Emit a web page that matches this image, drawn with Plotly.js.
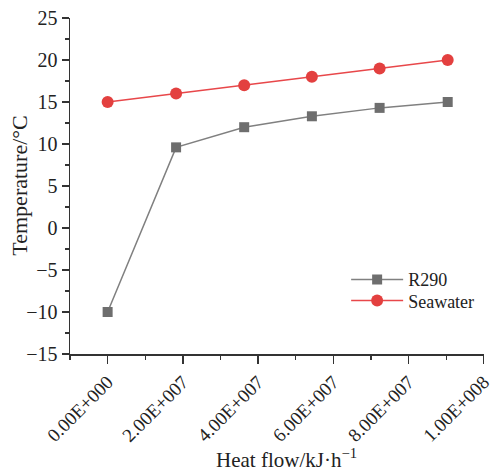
<!DOCTYPE html>
<html>
<head>
<meta charset="utf-8">
<script src="https://cdn.plot.ly/plotly-3.0.1.min.js"></script>
<style>
  html, body { margin: 0; padding: 0; background: #fff; }
  #chart { width: 492px; height: 471px; }
</style>
</head>
<body>
<div id="chart"></div>
<script>
// Heat flow along the exchanger (kJ/h)
const heatFlow = [0, 1.82e7, 3.63e7, 5.43e7, 7.23e7, 9.04e7];
// Temperatures (°C)
const r290Temp = [-10, 9.6, 12, 13.3, 14.3, 15];
const seawaterTemp = [15, 16, 17, 18, 19, 20];
// X-axis tick positions and labels
const xTickVals = [0, 2e7, 4e7, 6e7, 8e7, 1e8];
const xTickText = ['0.00E+000', '2.00E+007', '4.00E+007', '6.00E+007', '8.00E+007', '1.00E+008'];
const xMinorVals = [-1e7, 1e7, 3e7, 5e7, 7e7, 9e7];

const serif = 'Liberation Serif, Times New Roman, serif';

const traces = [
  {
    x: heatFlow, y: r290Temp, name: 'R290', legend: 'legend',
    mode: 'lines+markers', type: 'scatter',
    line: { color: '#808080', width: 1.5 },
    marker: { symbol: 'square', size: 10, color: '#6e6e6e' }
  },
  {
    x: heatFlow, y: seawaterTemp, name: 'Seawater', legend: 'legend2',
    mode: 'lines+markers', type: 'scatter',
    line: { color: '#e8474a', width: 1.5 },
    marker: { symbol: 'circle', size: 12, color: '#e3403f' }
  }
];

const legendBase = {
  xanchor: 'left', yanchor: 'middle',
  font: { family: serif, size: 18, color: '#222' },
  bgcolor: 'rgba(0,0,0,0)', itemwidth: 52
};

const layout = {
  width: 492, height: 471,
  margin: { l: 70, r: 8, t: 18, b: 117 },
  paper_bgcolor: '#fff', plot_bgcolor: '#fff',
  font: { family: serif, color: '#222', size: 18 },
  showlegend: true,
  legend: Object.assign({ x: 0.667, y: 0.221 }, legendBase),
  legend2: Object.assign({ x: 0.667, y: 0.158 }, legendBase),
  xaxis: {
    range: [-1e7, 1.0005e8],
    tickmode: 'array', tickvals: xTickVals, ticktext: xTickText,
    tickangle: -45, ticklabeloverflow: 'allow',
    ticks: 'outside', ticklen: 8, tickwidth: 1.3, tickcolor: '#333',
    minor: { tickmode: 'array', tickvals: xMinorVals, ticks: 'outside', ticklen: 4, tickwidth: 1.3, tickcolor: '#333', showgrid: false },
    showline: true, linecolor: '#333', linewidth: 1.5,
    showgrid: false, zeroline: false,
    tickfont: { family: serif, size: 19, color: '#222' }
  },
  yaxis: {
    range: [-15, 25],
    tickmode: 'linear', tick0: -15, dtick: 5,
    ticks: 'outside', ticklen: 7, tickwidth: 1.3, tickcolor: '#333',
    minor: { dtick: 2.5, ticks: 'outside', ticklen: 4, tickwidth: 1.3, tickcolor: '#333', showgrid: false },
    showline: true, linecolor: '#333', linewidth: 1.5,
    showgrid: false, zeroline: false,
    tickfont: { family: serif, size: 20, color: '#222' }
  },
  annotations: [
    {
      text: 'Heat flow/kJ·h<sup>−1</sup>',
      xref: 'paper', yref: 'paper', x: 0.522, y: -0.31,
      xanchor: 'center', yanchor: 'middle', showarrow: false,
      font: { family: serif, size: 21, color: '#222' }
    },
    {
      text: 'Temperature/°C', textangle: -90,
      xref: 'paper', yref: 'paper', x: -0.124, y: 0.5,
      xanchor: 'center', yanchor: 'middle', showarrow: false,
      font: { family: serif, size: 22, color: '#222' }
    }
  ]
};

Plotly.newPlot('chart', traces, layout, { displayModeBar: false, staticPlot: true });
</script>
</body>
</html>
